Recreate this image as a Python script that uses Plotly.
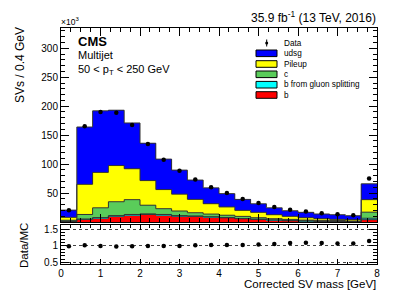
import numpy as np
import plotly.graph_objects as go

# ---- data (x10^3 SVs per 0.4 GeV bin) ----
bin_edges = [0.0, 0.4, 0.8, 1.2, 1.6, 2.0, 2.4, 2.8, 3.2, 3.6, 4.0,
             4.4, 4.8, 5.2, 5.6, 6.0, 6.4, 6.8, 7.2, 7.6, 8.0]
b_vals = [1.0, 4.6, 6.8, 10.0, 12.0, 13.0, 12.0, 10.0, 9.7, 8.5,
          7.2, 5.7, 4.5, 3.3, 2.2, 1.6, 1.0, 0.9, 0.7, 4.0]
bgsp_vals = [0.2, 0.4, 0.7, 1.0, 1.0, 1.0, 1.0, 1.0, 0.7, 0.5,
             0.6, 0.3, 0.3, 0.2, 0.2, 0.2, 0.1, 0.1, 0.1, 2.5]
c_vals = [1.8, 8.0, 17.0, 24.0, 25.6, 15.0, 10.0, 8.0, 5.6, 4.7,
          3.9, 3.7, 2.6, 2.2, 2.1, 1.5, 1.7, 1.5, 0.8, 10.5]
pileup_vals = [5.0, 52.0, 61.1, 62.5, 53.4, 42.5, 33.0, 29.0, 23.0, 17.9,
               14.3, 10.3, 9.2, 6.9, 5.2, 4.1, 2.9, 2.0, 2.4, 21.6]
udsg_vals = [12.5, 99.0, 106.4, 95.5, 79.0, 64.5, 52.6, 41.6, 33.4, 27.4,
             23.0, 19.0, 14.9, 11.9, 9.8, 9.3, 8.1, 8.1, 6.9, 27.4]
data_vals = [20.2, 165.5, 190.0, 188.5, 167.5, 134.5, 107.5, 88.5, 73.5, 60.0,
             50.0, 39.8, 32.6, 25.8, 21.0, 18.1, 14.9, 13.4, 11.6, 75.0]

x_ticks = [0, 1, 2, 3, 4, 5, 6, 7, 8]
y_ticks = [50, 100, 150, 200, 250, 300]
ratio_ticks = [0.5, 1, 1.5]
ratio_ticktext = ["0.5", "1", "1.5"]

components = [
    ("b", b_vals, "#ff0000"),
    ("b from gluon splitting", bgsp_vals, "#00ffff"),
    ("c", c_vals, "#5acc5a"),
    ("Pileup", pileup_vals, "#ffff00"),
    ("udsg", udsg_vals, "#0000ff"),
]

edges = np.array(bin_edges)
centers = 0.5 * (edges[:-1] + edges[1:])
widths = np.diff(edges)

FONT = "Liberation Sans, Arial, Helvetica, sans-serif"
fig = go.Figure()

cum = np.zeros(len(centers))
tops = []
for name, vals, col in components:
    fig.add_trace(go.Bar(x=centers, y=vals, width=widths, marker=dict(color=col, line=dict(width=0)),
                         name=name, showlegend=False, xaxis="x", yaxis="y"))
    cum = cum + np.array(vals)
    tops.append(cum.copy())

# outlines of the stacked histograms
for top in tops:
    fig.add_trace(go.Scatter(x=list(edges), y=list(top) + [top[-1]], mode="lines",
                             line=dict(color="#333333", width=1, shape="hv"),
                             showlegend=False, hoverinfo="skip", xaxis="x", yaxis="y"))

total = tops[-1]
fig.add_trace(go.Scatter(x=centers, y=data_vals, mode="markers",
                         marker=dict(color="black", size=4.5), showlegend=False,
                         xaxis="x", yaxis="y"))

ratio = np.array(data_vals) / total
fig.add_trace(go.Scatter(x=centers, y=ratio, mode="markers",
                         marker=dict(color="black", size=4.5), showlegend=False,
                         xaxis="x2", yaxis="y2"))

# geometry: the page body has an 8px margin, so the figure is offset by 8px
OFF = 8
WIN_W, WIN_H = 407, 293
W, H = WIN_W - OFF, WIN_H - OFF
plot_left, plot_right, plot_top, plot_bottom = 61, 377, 28, 264   # window pixels
L = plot_left - OFF
T = plot_top - OFF
R = W - (plot_right - OFF)
B = H - (plot_bottom - OFF)
pw, ph = plot_right - plot_left, plot_bottom - plot_top


def px(x):
    return (x - plot_left) / pw


def py(y):
    return (plot_bottom - y) / ph


main_dom = [py(222), 1]
ratio_dom = [0, py(225)]

axis_common = dict(ticks="inside", showline=True, linecolor="black", linewidth=1,
                   mirror="allticks", tickcolor="black", zeroline=False,
                   tickfont=dict(family=FONT, size=10, color="black"))

fig.update_layout(
    width=W, height=H, margin=dict(l=L, r=R, t=T, b=B, autoexpand=False),
    paper_bgcolor="white", plot_bgcolor="white", barmode="stack", bargap=0,
    showlegend=False,
    xaxis=dict(domain=[0, 1], range=[0, 8], anchor="y", tickvals=x_ticks, showticklabels=False,
               ticklen=8, showgrid=False,
               minor=dict(dtick=0.25, ticklen=4, ticks="inside", tickcolor="black"),
               **axis_common),
    yaxis=dict(domain=main_dom, range=[0, 335], anchor="x", tickvals=y_ticks, ticklen=8,
               showgrid=False,
               minor=dict(dtick=10, ticklen=4, ticks="inside", tickcolor="black"), **axis_common),
    xaxis2=dict(domain=[0, 1], range=[0, 8], anchor="y2", tickvals=x_ticks, ticklen=5,
                showgrid=False,
                minor=dict(dtick=0.25, ticklen=2.5, ticks="inside", tickcolor="black"),
                **axis_common),
    yaxis2=dict(domain=ratio_dom, range=[0.45, 1.62], anchor="x2", tickvals=ratio_ticks,
                ticktext=ratio_ticktext, ticklen=8,
                minor=dict(dtick=0.1, ticklen=4, ticks="inside", tickcolor="black"),
                showgrid=True, gridcolor="#444444", griddash="dot", gridwidth=1,
                **axis_common),
)

ann = []


def text(x, y, s, size, xanchor="left", yanchor="middle", angle=0, bold=False):
    ann.append(dict(x=x, y=y, xref="paper", yref="paper", text=("<b>%s</b>" % s) if bold else s,
                    showarrow=False, xanchor=xanchor, yanchor=yanchor, textangle=angle,
                    font=dict(family=FONT, size=size, color="black")))


text(px(378), py(17), "35.9 fb<sup>-1</sup> (13 TeV, 2016)", 12, xanchor="right")
text(px(59), py(21), "×10<sup>3</sup>", 8.5)
text(px(76), py(41.7), "CMS", 13, bold=True)
text(px(76), py(55), "Multijet", 11)
text(px(76), py(70.5), "50 < p<sub>T</sub> < 250 GeV", 11)
text(px(20), py(65), "SVs / 0.4 GeV", 12, xanchor="center", angle=-90)
text(px(24), py(246), "Data/MC", 11.5, xanchor="center", angle=-90)
text(px(378), py(284), "Corrected SV mass [GeV]", 11.5, xanchor="right")

# legend
legend_rows = [("Data", None)] + [(n, c) for n, _, c in reversed(components)]
row_y = [43, 53.3, 64, 74.3, 84.7, 95]
shapes = []
for (name, col), yy in zip(legend_rows, row_y):
    text(px(281.5), py(yy), name, 8.2)
    if col is None:
        shapes.append(dict(type="line", xref="paper", yref="paper", x0=px(266.7), x1=px(266.7),
                           y0=py(yy - 3.5), y1=py(yy + 3.5), line=dict(color="black", width=1)))
        shapes.append(dict(type="circle", xref="paper", yref="paper", x0=px(265.2), x1=px(268.2),
                           y0=py(yy + 1.5), y1=py(yy - 1.5), fillcolor="black",
                           line=dict(color="black", width=0)))
    else:
        shapes.append(dict(type="rect", xref="paper", yref="paper", x0=px(256), x1=px(277),
                           y0=py(yy + 3.3), y1=py(yy - 3.3), fillcolor=col,
                           line=dict(color="black", width=1)))

fig.update_layout(annotations=ann, shapes=shapes)
fig.write_html("out.html")
